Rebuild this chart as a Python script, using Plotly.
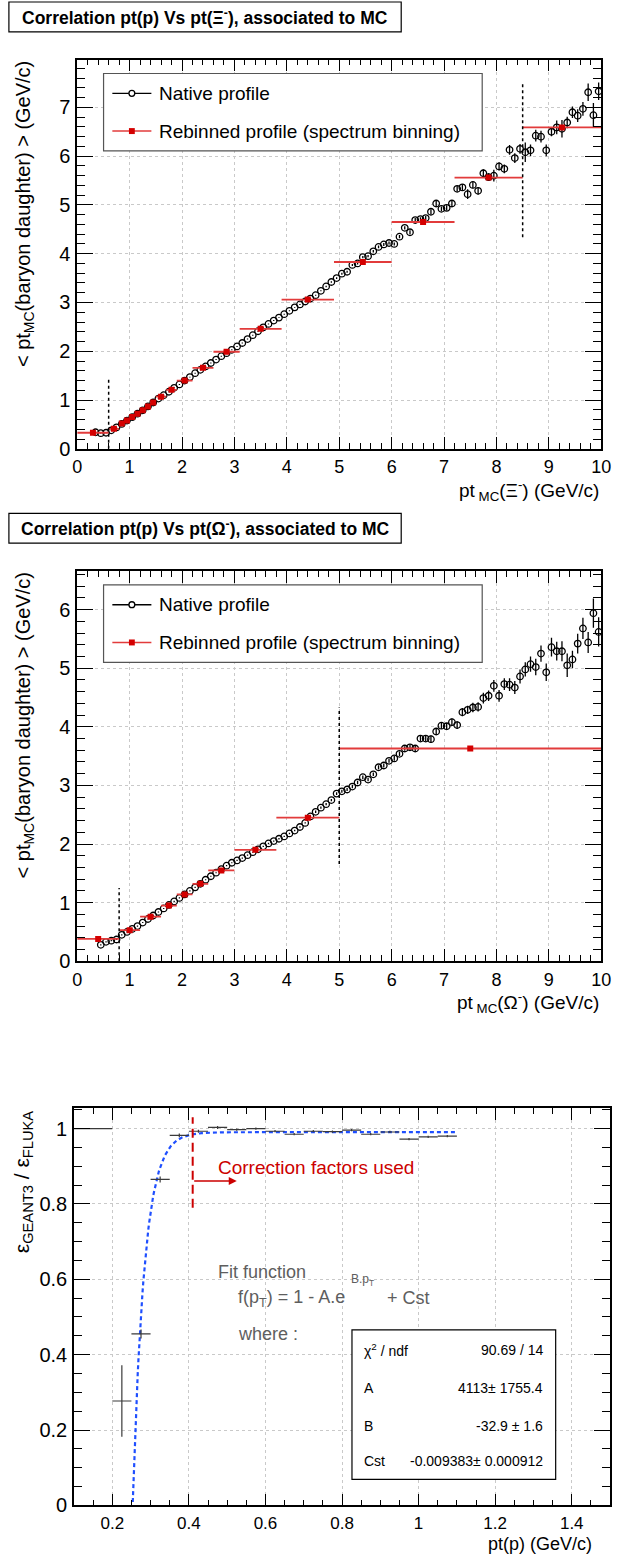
import numpy as np
import plotly.graph_objects as go

W, H = 622, 1567
FONT = "Liberation Sans, Arial, Helvetica, sans-serif"

# ---------------------------------------------------------------- Xi- panel
# <pT(p)> per 0.1 GeV/c bin of pT(Xi), first bin starting at 0.3 GeV/c
XI_FIRST_BIN = 0.3
BIN_WIDTH = 0.1
XI_MEAN = [
    0.34, 0.32, 0.33, 0.38, 0.44, 0.51, 0.58, 0.65, 0.72, 0.79,
    0.87, 0.95, 1.03, 1.10, 1.17, 1.25, 1.32, 1.40, 1.47, 1.55,
    1.62, 1.69, 1.76, 1.83, 1.90, 1.96, 2.03, 2.10, 2.17, 2.25,
    2.33, 2.41, 2.49, 2.56, 2.63, 2.69, 2.76, 2.83, 2.90, 2.96,
    3.02, 3.08, 3.15, 3.24, 3.33, 3.42, 3.50, 3.59, 3.63, 3.77,
    3.80, 3.93, 3.95, 4.05, 4.14, 4.19, 4.22, 4.20, 4.35, 4.53,
    4.44, 4.69, 4.71, 4.73, 4.86, 5.03, 4.92, 4.94, 5.03, 5.33,
    5.36, 5.22, 5.41, 5.29, 5.65, 5.57, 5.60, 5.79, 5.74, 6.13,
    5.96, 6.15, 6.08, 6.12, 6.42, 6.40, 6.12, 6.50, 6.59, 6.56,
    6.69, 6.90, 6.83, 6.97, 7.31, 6.84, 7.33,
]
XI_ERR = [0.01] * 40 + [
    0.01, 0.01, 0.01, 0.01, 0.015, 0.015, 0.02, 0.02, 0.02, 0.02,
    0.02, 0.025, 0.025, 0.025, 0.03, 0.03, 0.03, 0.03, 0.035, 0.035,
    0.04, 0.04, 0.04, 0.045, 0.05, 0.05, 0.05, 0.055, 0.06, 0.06,
    0.065, 0.10, 0.07, 0.075, 0.08, 0.08, 0.12, 0.085, 0.09, 0.10,
    0.10, 0.10, 0.20, 0.12, 0.12, 0.12, 0.12, 0.09, 0.14, 0.18,
    0.12, 0.12, 0.13, 0.14, 0.18, 0.25, 0.18,
]
XI_REBIN_EDGES = [0.0, 0.6, 0.8, 0.9, 1.0, 1.1, 1.2, 1.3, 1.4, 1.5, 1.7,
                  1.9, 2.2, 2.6, 3.1, 3.9, 4.9, 6.0, 7.2, 8.5, 10.0]
XI_REBIN_MEAN = [0.33, 0.41, 0.52, 0.58, 0.65, 0.72, 0.79, 0.87, 0.95, 1.07,
                 1.21, 1.40, 1.66, 1.99, 2.46, 3.06, 3.83, 4.65, 5.56, 6.59]
XI_CUTS = [0.6, 8.5]
XI_CUT_LOW = [0.0, 4.34]
XI_CUT_HIGH = [1.45, 7.52]

# ------------------------------------------------------------- Omega- panel
OMEGA_FIRST_BIN = 0.4
OMEGA_MEAN = [
    0.28, 0.33, 0.35, 0.37, 0.45, 0.50, 0.55, 0.60, 0.66, 0.72,
    0.78, 0.84, 0.90, 0.96, 1.02, 1.08, 1.14, 1.20, 1.26, 1.32,
    1.39, 1.45, 1.51, 1.57, 1.63, 1.68, 1.72, 1.76, 1.81, 1.86,
    1.91, 1.96, 2.01, 2.05, 2.09, 2.13, 2.18, 2.23, 2.29, 2.36,
    2.47, 2.55, 2.62, 2.68, 2.75, 2.86, 2.90, 2.93, 2.98, 3.05,
    3.14, 3.10, 3.19, 3.31, 3.34, 3.42, 3.46, 3.54, 3.63, 3.65,
    3.63, 3.80, 3.80, 3.79, 3.92, 4.02, 4.01, 4.08, 4.03, 4.25,
    4.29, 4.33, 4.34, 4.49, 4.53, 4.70, 4.53, 4.73, 4.72, 4.67,
    4.86, 4.98, 5.07, 5.02, 5.25, 4.93, 5.36, 5.29, 5.29, 5.05,
    5.15, 5.42, 5.68, 5.44, 5.94, 5.62,
]
OMEGA_ERR = [0.01] * 30 + [0.012] * 10 + [
    0.02, 0.02, 0.02, 0.02, 0.02, 0.025, 0.025, 0.025, 0.03, 0.03,
    0.03, 0.03, 0.03, 0.035, 0.035, 0.035, 0.04, 0.04, 0.04, 0.045,
    0.045, 0.05, 0.05, 0.06, 0.05, 0.055, 0.055, 0.06, 0.065, 0.07,
    0.07, 0.08, 0.08, 0.09, 0.09, 0.10, 0.10, 0.10, 0.11, 0.11,
    0.12, 0.12, 0.13, 0.14, 0.14, 0.15, 0.16, 0.16, 0.17, 0.20,
    0.15, 0.17, 0.18, 0.18, 0.25, 0.25,
]
OMEGA_REBIN_EDGES = [0.0, 0.8, 1.2, 1.6, 1.9, 2.2, 2.5, 3.0, 3.8, 5.0, 10.0]
OMEGA_REBIN_MEAN = [0.38, 0.53, 0.76, 0.95, 1.14, 1.32, 1.55, 1.90, 2.45, 3.63]
OMEGA_CUTS = [0.8, 5.0]
OMEGA_CUT_LOW = [0.0, 1.66]
OMEGA_CUT_HIGH = [1.25, 4.33]

# ------------------------------------------------- GEANT3 / FLUKA efficiency
EFF_LOW = [0.10, 0.20, 0.25, 0.30, 0.35, 0.40, 0.45, 0.50, 0.55, 0.60,
           0.65, 0.70, 0.75, 0.80, 0.85, 0.90, 0.95, 1.00, 1.05]
EFF_HIGH = [0.20, 0.25, 0.30, 0.35, 0.40, 0.45, 0.50, 0.55, 0.60, 0.65,
            0.70, 0.75, 0.80, 0.85, 0.90, 0.95, 1.00, 1.05, 1.10]
EFF_RATIO = [1.000, 0.277, 0.455, 0.865, 0.982, 0.993, 1.003, 0.997, 1.000,
             0.993, 0.985, 0.993, 0.992, 0.996, 0.985, 0.991, 0.972, 0.978,
             0.980]
EFF_RATIO_ERR = [0.0, 0.095, 0.012, 0.008, 0.005, 0.004, 0.004, 0.003, 0.003,
                 0.003, 0.003, 0.003, 0.003, 0.003, 0.003, 0.003, 0.003,
                 0.003, 0.003]

FIT_A, FIT_B, FIT_CST = 4113.0, -32.9, -0.009383
FIT_RANGE = (0.2535, 1.10)
CORRECTION_CUT = 0.41
CORRECTION_SPAN = (0.79, 1.03)
CORRECTION_ARROW_END = 0.525

STATS_ROWS = [
    ("\u03c7<sup>2</sup> / ndf", "90.69 / 14"),
    ("A", "4113\u00b1 1755.4"),
    ("B", "-32.9 \u00b1 1.6"),
    ("Cst", "-0.009383\u00b1 0.000912"),
]

BLACK = "black"
RED = "#d40000"
RED_LINE = "#e23b3b"
BLUE = "#1f4fff"
GRAY_TEXT = "#5e5e5e"


def px(x):
    return x / W


def py(y):
    return 1 - y / H


def centers(first, n):
    return [round(first + BIN_WIDTH * (i + 0.5), 3) for i in range(n)]


def rebin(edges):
    mids = [(a + b) / 2 for a, b in zip(edges[:-1], edges[1:])]
    half = [(b - a) / 2 for a, b in zip(edges[:-1], edges[1:])]
    return mids, half


fig = go.Figure()


def profile_panel(xa, ya, first, mean, err, redges, rmean, cuts, lo, hi):
    xs = centers(first, len(mean))
    fig.add_trace(go.Scatter(
        x=xs, y=mean, mode="markers", xaxis=xa, yaxis=ya,
        marker=dict(symbol="circle-open", size=6.5, color=BLACK,
                    line=dict(width=1.3, color=BLACK)),
        error_y=dict(type="data", array=err, width=0, thickness=1.3,
                     color=BLACK),
        showlegend=False, hoverinfo="skip"))
    mids, half = rebin(redges)
    fig.add_trace(go.Scatter(
        x=mids, y=rmean, mode="markers", xaxis=xa, yaxis=ya,
        marker=dict(symbol="square", size=6, color=RED),
        error_x=dict(type="data", array=half, width=0, thickness=1.8,
                     color=RED_LINE),
        showlegend=False, hoverinfo="skip"))
    for c, a, b in zip(cuts, lo, hi):
        fig.add_trace(go.Scatter(
            x=[c, c], y=[a, b], mode="lines", xaxis=xa, yaxis=ya,
            line=dict(color=BLACK, width=1.5, dash="3px,3px"),
            showlegend=False, hoverinfo="skip"))


profile_panel("x", "y", XI_FIRST_BIN, XI_MEAN, XI_ERR, XI_REBIN_EDGES,
              XI_REBIN_MEAN, XI_CUTS, XI_CUT_LOW, XI_CUT_HIGH)
profile_panel("x2", "y2", OMEGA_FIRST_BIN, OMEGA_MEAN, OMEGA_ERR,
              OMEGA_REBIN_EDGES, OMEGA_REBIN_MEAN, OMEGA_CUTS,
              OMEGA_CUT_LOW, OMEGA_CUT_HIGH)

# efficiency ratio with its exponential fit
fx = np.linspace(FIT_RANGE[0], FIT_RANGE[1], 400)
fy = 1 - FIT_A * np.exp(FIT_B * fx) + FIT_CST
fig.add_trace(go.Scatter(
    x=fx, y=fy, mode="lines", xaxis="x3", yaxis="y3",
    line=dict(color=BLUE, width=2.2, dash="4px,3px"),
    showlegend=False, hoverinfo="skip"))
emid = [(a + b) / 2 for a, b in zip(EFF_LOW, EFF_HIGH)]
ehalf = [(b - a) / 2 for a, b in zip(EFF_LOW, EFF_HIGH)]
fig.add_trace(go.Scatter(
    x=emid, y=EFF_RATIO, mode="markers", xaxis="x3", yaxis="y3",
    marker=dict(size=1, color="rgba(0,0,0,0)"),
    error_x=dict(type="data", array=ehalf, width=0, thickness=1.2,
                 color="#3a3a3a"),
    error_y=dict(type="data", array=EFF_RATIO_ERR, width=0, thickness=1.2,
                 color="#3a3a3a"),
    showlegend=False, hoverinfo="skip"))
fig.add_trace(go.Scatter(
    x=[CORRECTION_CUT, CORRECTION_CUT], y=list(CORRECTION_SPAN),
    mode="lines", xaxis="x3", yaxis="y3",
    line=dict(color="#cc0000", width=2, dash="9px,5px"),
    showlegend=False, hoverinfo="skip"))


def axis(domain, rng, dtick, minor, anchor, ticklen, fsize):
    return dict(
        domain=domain, range=rng, dtick=dtick, anchor=anchor,
        showline=True, linecolor=BLACK, linewidth=1.6, mirror="allticks",
        ticks="inside", ticklen=ticklen, tickwidth=1.4, tickcolor=BLACK,
        showgrid=True, gridcolor="#c9c9c9", griddash="dot", gridwidth=1,
        zeroline=False, ticklabelstandoff=1,
        tickfont=dict(family=FONT, size=fsize, color=BLACK),
        minor=dict(ticks="inside", ticklen=ticklen / 2, tickwidth=1,
                   tickcolor=BLACK, dtick=minor, showgrid=False),
    )


XD = [px(74), px(611)]
layout = dict(
    width=W, height=H, margin=dict(l=0, r=0, t=0, b=0),
    paper_bgcolor="white", plot_bgcolor="white", showlegend=False,
    xaxis=axis(XD, [0, 10], 1, 0.2, "y", 12, 18),
    yaxis=axis([py(452), py(60)], [0, 7.98], 1, 0.2, "x", 16, 20),
    xaxis2=axis(XD, [0, 10], 1, 0.2, "y2", 12, 18),
    yaxis2=axis([py(968), py(575)], [0, 6.66], 1, 0.2, "x2", 16, 20),
    xaxis3=axis([px(70.7), px(620)], [0.1, 1.5], 0.2, 0.05, "y3", 12, 17),
    yaxis3=axis([py(1516), py(1115.7)], [0, 1.055], 0.2, 0.05, "x3", 16, 20),
)
fig.update_layout(**layout)

shapes = []
ann = []


def text(x, y, s, size=17, color=BLACK, xa="left", ya="middle", angle=0,
         xref="paper", yref="paper", bold=False):
    ann.append(dict(x=x, y=y, xref=xref, yref=yref, text=s, showarrow=False,
                    xanchor=xa, yanchor=ya, textangle=angle,
                    font=dict(family=FONT, size=size, color=color,
                              weight="bold" if bold else "normal")))


# panel titles
for top, label in [(2, "Correlation pt(p) Vs pt(\u039e<sup>-</sup>), associated to MC"),
                   (517, "Correlation pt(p) Vs pt(\u03a9<sup>-</sup>), associated to MC")]:
    shapes.append(dict(type="rect", xref="paper", yref="paper",
                       x0=px(4), x1=px(406), y0=py(top + 30), y1=py(top),
                       line=dict(color=BLACK, width=1.2), fillcolor="white"))
    text(px(205), py(top + 15), label, size=17.5, xa="center", bold=True)

# axis titles of the profile panels
for ftop, fbot, part in [(60, 452, "\u039e"), (575, 968, "\u03a9")]:
    text(px(20), py(ftop), "&lt; pt<sub>MC</sub>(baryon daughter) &gt; (GeV/c)",
         size=20, xa="center", ya="top", angle=-90)
    text(px(611), py(fbot + 26),
         "pt<sub> MC</sub>(" + part + "<sup>-</sup>) (GeV/c)",
         size=19, xa="right", ya="top")

    # legend box
    lt = ftop + 14
    shapes.append(dict(type="rect", xref="paper", yref="paper",
                       x0=px(101), x1=px(489), y0=py(lt + 78), y1=py(lt),
                       line=dict(color="#555555", width=1.2),
                       fillcolor="white"))
    r1, r2 = lt + 20, lt + 58
    shapes.append(dict(type="line", xref="paper", yref="paper",
                       x0=px(110), x1=px(150), y0=py(r1), y1=py(r1),
                       line=dict(color=BLACK, width=1.3)))
    shapes.append(dict(type="circle", xref="paper", yref="paper",
                       x0=px(127), x1=px(133), y0=py(r1 + 3), y1=py(r1 - 3),
                       line=dict(color=BLACK, width=1.3), fillcolor="white"))
    shapes.append(dict(type="line", xref="paper", yref="paper",
                       x0=px(110), x1=px(150), y0=py(r2), y1=py(r2),
                       line=dict(color=RED_LINE, width=1.6)))
    shapes.append(dict(type="rect", xref="paper", yref="paper",
                       x0=px(127), x1=px(133), y0=py(r2 + 3), y1=py(r2 - 3),
                       line=dict(color=RED, width=0), fillcolor=RED))
    text(px(156), py(r1), "Native profile", size=19)
    text(px(156), py(r2), "Rebinned profile (spectrum binning)", size=19)

# efficiency panel titles
text(px(18), py(1116), "\u03b5<sub>GEANT3</sub> / \u03b5<sub>FLUKA</sub>",
     size=21, xa="center", ya="top", angle=-90)
text(px(604), py(1543), "pt(p) (GeV/c)", size=18, xa="right", ya="top")

# correction cut arrow and label
ann.append(dict(x=CORRECTION_ARROW_END, y=0.861, ax=CORRECTION_CUT, ay=0.861,
                xref="x3", yref="y3", axref="x3", ayref="y3", text="",
                showarrow=True, arrowhead=2, arrowsize=1, arrowwidth=1.6,
                arrowcolor="#cc0000"))
text(0.47, 0.897, "Correction factors used", size=19, color="#cc0000",
     xref="x3", yref="y3")

# fit description
text(0.472, 0.619, "Fit function", size=18, color=GRAY_TEXT,
     xref="x3", yref="y3")
text(0.524, 0.55, "f(p<sub>T</sub>) = 1 - A.e", size=18, color=GRAY_TEXT,
     xref="x3", yref="y3")
text(0.818, 0.597, "B.p<sub>T</sub>", size=12, color=GRAY_TEXT,
     xref="x3", yref="y3")
text(0.912, 0.55, "+ Cst", size=18, color=GRAY_TEXT, xref="x3", yref="y3")
text(0.524, 0.455, "where :", size=18, color=GRAY_TEXT, xref="x3", yref="y3")

# fit statistics box
shapes.append(dict(type="rect", xref="x3", yref="y3", x0=0.826, x1=1.358,
                   y0=0.069, y1=0.466, line=dict(color=BLACK, width=1.2),
                   fillcolor="white"))
for (lab, val), yy in zip(STATS_ROWS, [0.413, 0.312, 0.211, 0.1175]):
    text(0.852, yy, lab, size=14, xref="x3", yref="y3")
    text(1.329, yy, val, size=14, xa="right", xref="x3", yref="y3")

fig.update_layout(shapes=shapes, annotations=ann)
fig.write_html("out.html")
